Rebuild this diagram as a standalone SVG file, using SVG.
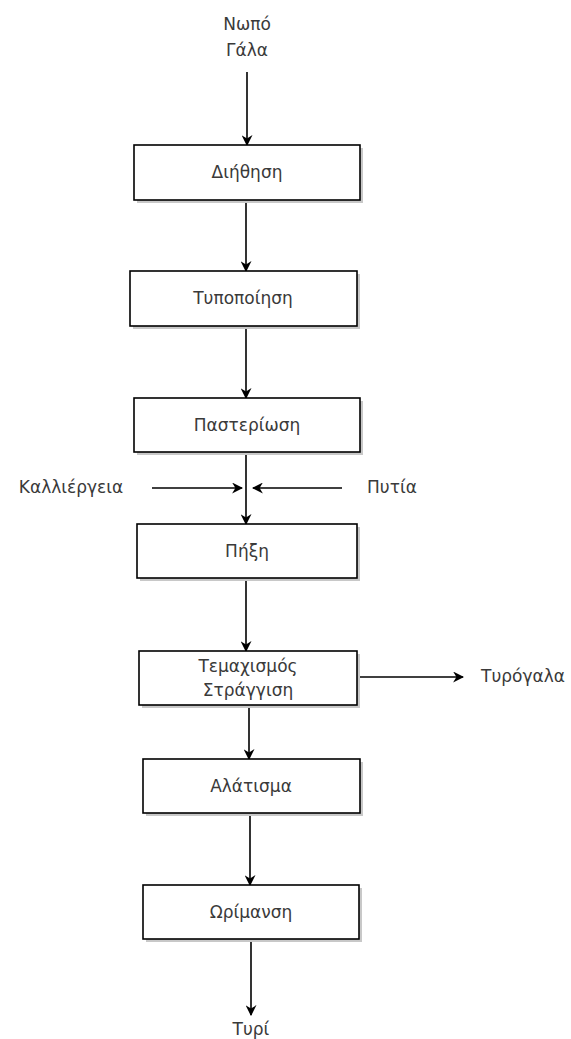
<svg xmlns="http://www.w3.org/2000/svg" width="571" height="1039" viewBox="0 0 571 1039">
<defs>
<marker id="arr" viewBox="0 0 10 10" refX="9" refY="5" markerWidth="11" markerHeight="11" markerUnits="userSpaceOnUse" orient="auto">
<path d="M0,0 L10,5 L0,10 L3,5 Z" fill="#000"/>
</marker>
</defs>
<style>
.box{fill:#fff;stroke:#000;stroke-width:1.6}
.sh{fill:#c8c8c8}
.t{font-family:"DejaVu Sans","Liberation Sans",sans-serif;font-size:17px;fill:#3a3a3a;text-anchor:middle;dominant-baseline:central}
.c{stroke:#000;stroke-width:1.6;fill:none;marker-end:url(#arr)}
</style>
<rect width="571" height="1039" fill="#fff"/>
<g id="connectors">
<line class="c" x1="247" y1="72" x2="247" y2="145"/>
<line class="c" x1="246" y1="200" x2="246" y2="271"/>
<line class="c" x1="246" y1="326" x2="246" y2="398"/>
<line class="c" x1="246" y1="452" x2="246" y2="524"/>
<line class="c" x1="152" y1="488" x2="242" y2="488"/>
<line class="c" x1="342" y1="488" x2="253" y2="488"/>
<line class="c" x1="246" y1="578" x2="246" y2="651"/>
<line class="c" x1="357" y1="677" x2="463" y2="677"/>
<line class="c" x1="249" y1="705" x2="249" y2="759"/>
<line class="c" x1="250" y1="813" x2="250" y2="885"/>
<line class="c" x1="251" y1="939" x2="251" y2="1015"/>
</g>
<g id="input-milk"><text class="t" x="247" y="24">Νωπό</text><text class="t" x="247" y="50">Γάλα</text></g>
<g id="n1"><rect class="sh" x="137" y="148" width="226" height="55"/><rect class="box" x="134" y="145" width="226" height="55"/><text class="t" x="247" y="172">Διήθηση</text></g>
<g id="n2"><rect class="sh" x="133" y="274" width="227" height="55"/><rect class="box" x="130" y="271" width="227" height="55"/><text class="t" x="243" y="298">Τυποποίηση</text></g>
<g id="n3"><rect class="sh" x="137" y="401" width="226" height="54"/><rect class="box" x="134" y="398" width="226" height="54"/><text class="t" x="247" y="425">Παστερίωση</text></g>
<g id="culture"><text class="t" x="71" y="487">Καλλιέργεια</text></g>
<g id="rennet"><text class="t" x="392" y="487">Πυτία</text></g>
<g id="n4"><rect class="sh" x="140" y="527" width="220" height="54"/><rect class="box" x="137" y="524" width="220" height="54"/><text class="t" x="247" y="551">Πήξη</text></g>
<g id="n5"><rect class="sh" x="142" y="654" width="218" height="54"/><rect class="box" x="139" y="651" width="218" height="54"/><text class="t" x="248" y="666">Τεμαχισμός</text><text class="t" x="248" y="690">Στράγγιση</text></g>
<g id="whey"><text class="t" x="523" y="676">Τυρόγαλα</text></g>
<g id="n6"><rect class="sh" x="146" y="762" width="217" height="54"/><rect class="box" x="143" y="759" width="217" height="54"/><text class="t" x="251" y="786">Αλάτισμα</text></g>
<g id="n7"><rect class="sh" x="146" y="888" width="216" height="54"/><rect class="box" x="143" y="885" width="216" height="54"/><text class="t" x="251" y="912">Ωρίμανση</text></g>
<g id="cheese"><text class="t" x="251" y="1029">Τυρί</text></g>
</svg>
